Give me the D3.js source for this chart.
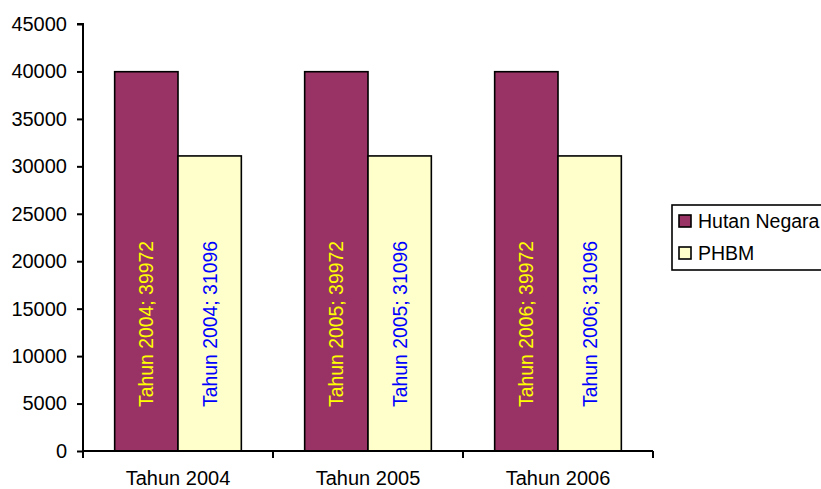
<!DOCTYPE html>
<html><head><meta charset="utf-8">
<script src="https://cdn.jsdelivr.net/npm/d3@7"></script>
<style>body{margin:0;background:#fff}svg{display:block}text{font-family:"Liberation Sans",Arial,sans-serif}</style>
</head><body><svg id="c" width="821" height="489"></svg>
<script>
const categories = ["Tahun 2004", "Tahun 2005", "Tahun 2006"];
const seriesNames = ["Hutan Negara", "PHBM"];
const hutanNegara = [39972, 39972, 39972];
const phbm = [31096, 31096, 31096];
const yTicks = [0, 5000, 10000, 15000, 20000, 25000, 30000, 35000, 40000, 45000];

const fills = ["#993366", "#FFFFCC"];
const labelColors = ["#FFFF00", "#0000FF"];
const svg = d3.select("#c");
const fsAxis = 20, fsLab = 19.4, fsLeg = 19.5;

const x = d3.scaleBand().domain(categories).range([83, 653]).paddingInner(0).paddingOuter(0);
const xs = d3.scaleBand().domain(seriesNames).range([0, x.bandwidth()]).paddingInner(0).paddingOuter(0.5);
const y = d3.scaleLinear().domain([0, 45000]).range([451, 24]);

const series = [hutanNegara, phbm];

series.forEach((vals, si) => {
  svg.append("g").selectAll("rect").data(vals).join("rect")
    .attr("x", (d, i) => x(categories[i]) + xs(seriesNames[si]))
    .attr("y", d => y(d))
    .attr("width", xs.bandwidth())
    .attr("height", d => y(0) - y(d))
    .attr("fill", fills[si])
    .attr("stroke", "#000").attr("stroke-width", 1.6);
});

series.forEach((vals, si) => {
  svg.append("g").selectAll("text").data(vals).join("text")
    .attr("transform", (d, i) => {
      const cx = x(categories[i]) + xs(seriesNames[si]) + xs.bandwidth() / 2;
      return `translate(${cx},324) rotate(-90)`;
    })
    .attr("text-anchor", "middle")
    .attr("dominant-baseline", "central")
    .attr("font-size", fsLab)
    .attr("fill", labelColors[si])
    .text((d, i) => `${categories[i]}; ${d}`);
});

const yAxis = d3.axisLeft(y).tickValues(yTicks).tickSize(6).tickPadding(10).tickFormat(d3.format("d"));
const gy = svg.append("g").attr("transform", "translate(83,0)").call(yAxis);
gy.select(".domain").attr("stroke", "#000").attr("stroke-width", 2).attr("d", `M-6,${y(45000)}H0V${y(0)}`);
gy.selectAll(".tick line").attr("stroke", "#000").attr("stroke-width", 2);
gy.selectAll(".tick text").attr("font-size", fsAxis).attr("fill", "#000").attr("font-family", '"Liberation Sans",Arial,sans-serif');

const gx = svg.append("g").attr("transform", `translate(0,${y(0)})`);
gx.append("line").attr("x1", 83).attr("x2", 653).attr("y1", 0).attr("y2", 0).attr("stroke", "#000").attr("stroke-width", 2);
const bounds = categories.map(c => x(c)).concat([x(categories[categories.length - 1]) + x.bandwidth()]);
gx.selectAll("line.tk").data(bounds).join("line").attr("class", "tk")
  .attr("x1", d => d).attr("x2", d => d).attr("y1", 0).attr("y2", 7)
  .attr("stroke", "#000").attr("stroke-width", 2);
gx.selectAll("text").data(categories).join("text")
  .attr("x", d => x(d) + x.bandwidth() / 2).attr("y", 27)
  .attr("text-anchor", "middle").attr("dominant-baseline", "central")
  .attr("font-size", fsAxis).attr("fill", "#000").text(d => d);

const lg = svg.append("g");
lg.append("rect").attr("x", 672).attr("y", 205).attr("width", 160).attr("height", 65)
  .attr("fill", "#fff").attr("stroke", "#000").attr("stroke-width", 1.6);
seriesNames.forEach((n, i) => {
  const cy = 221 + i * 32;
  lg.append("rect").attr("x", 679).attr("y", cy - 6).attr("width", 12).attr("height", 12)
    .attr("fill", fills[i]).attr("stroke", "#000").attr("stroke-width", 1.6);
  lg.append("text").attr("x", 698).attr("y", cy).attr("dominant-baseline", "central")
    .attr("font-size", fsLeg).attr("fill", "#000").text(n);
});
</script></body></html>
